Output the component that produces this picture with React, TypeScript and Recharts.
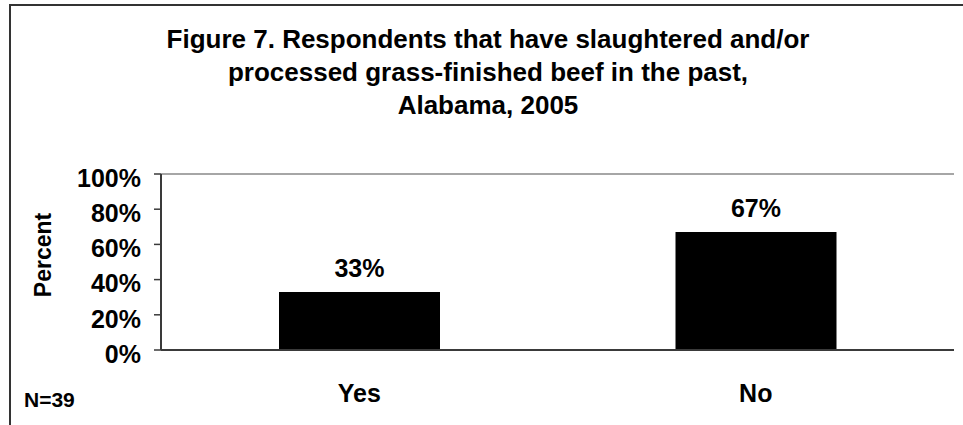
import { BarChart, Bar, XAxis, YAxis, LabelList, ReferenceLine } from "recharts";

const answers = ["Yes", "No"];
const percents = [33, 67];
const yTicks = [0, 20, 40, 60, 80, 100];
// tick marks sit between the categories, like the old Excel chart
const dividerTicks = [0, 1, 2];
const titleLines = [
  "Figure 7. Respondents that have slaughtered and/or",
  "processed grass-finished beef in the past,",
  "Alabama, 2005",
];
const note = "N=39";

const data = answers.map((answer, i) => ({ answer, pct: percents[i] }));

const FONT = "'Liberation Sans', Arial, Helvetica, sans-serif";
const AXIS = "#3a3a3a";

export default function App() {
  return (
    <div
      style={{
        position: "absolute",
        left: 0,
        top: 0,
        width: 963,
        height: 425,
        overflow: "hidden",
        background: "#fff",
        fontFamily: FONT,
      }}
    >
      {/* chart frame, cut off on the right and bottom */}
      <div
        style={{
          position: "absolute",
          left: 9,
          top: 4,
          width: 958,
          height: 500,
          border: "2px solid #333",
          boxSizing: "border-box",
        }}
      />

      <div style={{ position: "absolute", left: 0, top: 0 }}>
        <BarChart width={963} height={425} data={data} margin={{ top: 174, right: 9, bottom: 0, left: 0 }}>
          <XAxis
            xAxisId="b"
            dataKey="answer"
            axisLine={false}
            tickLine={false}
            tickSize={0}
            tickMargin={27}
            height={68}
            tick={{ fill: "#000", fontSize: 25, fontWeight: "bold", fontFamily: FONT }}
          />
          <XAxis
            xAxisId="a"
            type="number"
            domain={[0, 2]}
            ticks={dividerTicks}
            tick={false}
            tickSize={7}
            height={7}
            axisLine={{ stroke: AXIS, strokeWidth: 2 }}
            tickLine={{ stroke: AXIS, strokeWidth: 1.5 }}
          />
          <YAxis
            width={161}
            domain={[0, 100]}
            ticks={yTicks}
            interval={0}
            tickFormatter={(v) => `${v}%`}
            tickSize={7}
            tickMargin={13}
            axisLine={{ stroke: AXIS, strokeWidth: 2 }}
            tickLine={{ stroke: AXIS, strokeWidth: 1.5 }}
            tick={{ fill: "#000", fontSize: 25, fontWeight: "bold", fontFamily: FONT, dy: 4 }}
            label={{
              value: "Percent",
              content: (props: any) => {
                const vb = props.viewBox;
                const x = vb.x + 51;
                const y = vb.y + vb.height / 2 - 7;
                return (
                  <text
                    x={x}
                    y={y}
                    transform={`rotate(-90, ${x}, ${y})`}
                    textAnchor="middle"
                    fill="#000"
                    fontSize={23}
                    fontWeight="bold"
                    fontFamily={FONT}
                  >
                    Percent
                  </text>
                );
              },
            }}
          />
          {/* grey plot-area border on top and right */}
          <ReferenceLine y={100} xAxisId="a" stroke="#888" strokeWidth={1.5} />
          <ReferenceLine x={2} xAxisId="a" stroke="#888" strokeWidth={1.5} />
          <Bar dataKey="pct" xAxisId="b" fill="#000" barSize={161} isAnimationActive={false}>
            <LabelList
              dataKey="pct"
              position="top"
              offset={15}
              formatter={(v: any) => `${v}%`}
              fill="#000"
              fontSize={25}
              fontWeight="bold"
              fontFamily={FONT}
            />
          </Bar>
        </BarChart>
      </div>

      <svg
        width={963}
        height={425}
        style={{ position: "absolute", left: 0, top: 0, pointerEvents: "none" }}
      >
        {titleLines.map((line, i) => (
          <text
            key={i}
            x={488}
            y={48 + i * 33}
            textAnchor="middle"
            fill="#000"
            fontSize={26}
            fontWeight="bold"
            fontFamily={FONT}
          >
            {line}
          </text>
        ))}
        <text x={24} y={407} fill="#000" fontSize={21} fontWeight="bold" fontFamily={FONT}>
          {note}
        </text>
      </svg>
    </div>
  );
}
